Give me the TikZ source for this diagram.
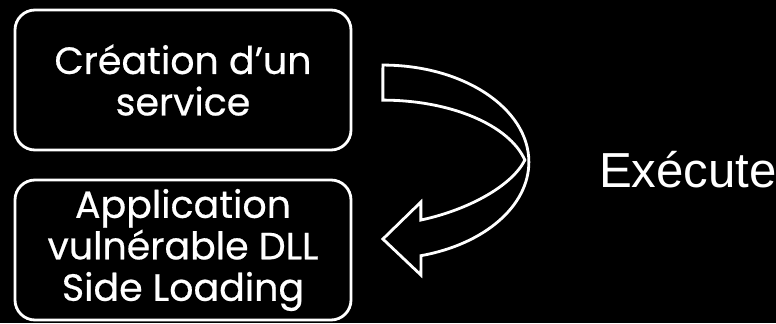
\documentclass[tikz,border=0pt]{standalone}
\usepackage{fontspec}
\newfontfamily\boxfont{Poppins}[FakeBold=0.5]
\newfontfamily\sidefont{Liberation Sans}
\usetikzlibrary{positioning}

\begin{document}
\begin{tikzpicture}[
  etape/.style={
    rectangle, draw=white, fill=black, line width=2pt, rounded corners=0.5cm,
    minimum width=8.4cm, minimum height=3.5cm, outer sep=0pt, align=center,
    text=white, font=\boxfont\fontsize{27}{29.5}\selectfont
  },
  fleche/.style={draw=white, fill=black, line width=2pt},
  lbl/.style={text=white, inner sep=0pt, font=\sidefont\fontsize{35}{40}\selectfont},
]
  \fill[black] (0,0) rectangle (19.4,8.075);
  \useasboundingbox (0,0) rectangle (19.4,8.075);

  \node[etape] (service) at (4.575,6.075) {Création d’un\\service};
  \node[etape, below=0.75cm of service] (appli) {Application\\vulnérable DLL\\Side Loading};
  \node[lbl, anchor=base] (execute) at (17.2,3.4) {Exécute};

  \begin{scope}[x=0.025cm, y=-0.025cm, shift={(0,-323)}]
    \draw[fleche] (383,65) arc[start angle=-90, end angle=74.9, x radius=146, y radius=97]
      -- (421,275) -- (383,239) -- (421,202) -- (421,220)
      .. controls (468,210) and (512,186) .. (525,160)
      arc[start angle=-13.4, end angle=-90, x radius=146, y radius=78]
      -- cycle;
  \end{scope}
\end{tikzpicture}
\end{document}
